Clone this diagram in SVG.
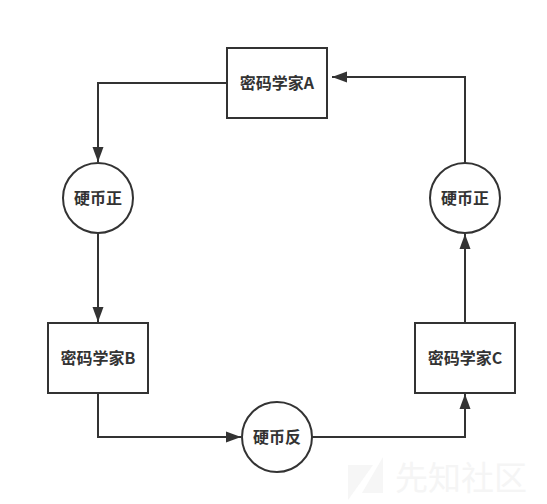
<svg xmlns="http://www.w3.org/2000/svg" width="547" height="504" viewBox="0 0 547 504">
<style>
.n{fill:#fff;stroke:#333;stroke-width:2}
.c{fill:none;stroke:#333;stroke-width:2}
.t{font-family:"Noto Sans CJK SC","Liberation Sans",sans-serif;font-size:16px;font-weight:700;fill:#333;text-anchor:middle}
.w{font-family:"Noto Sans CJK SC",sans-serif;font-size:33px;fill:#f5f5f5}
</style>
<defs>
<marker id="a" markerUnits="userSpaceOnUse" markerWidth="16" markerHeight="12" refX="15" refY="6" orient="auto"><path d="M0 0.5L15 6L0 11.5Z" fill="#333"/></marker>
</defs>
<rect width="547" height="504" fill="#fff"/>
<g id="watermark">
<path d="M348 465H373L348 500Z M383 457V493H362Z" fill="#f6f6f6"/>
<text class="w" x="395" y="490">先知社区</text>
</g>
<g id="connectors">
<path class="c" marker-end="url(#a)" d="M227 83H98V162"/>
<path class="c" marker-end="url(#a)" d="M98 233V322"/>
<path class="c" marker-end="url(#a)" d="M98 393V437H241"/>
<path class="c" marker-end="url(#a)" d="M312 437H465V394"/>
<path class="c" marker-end="url(#a)" d="M465 323V234"/>
<path class="c" marker-end="url(#a)" d="M465 163V77H332"/>
</g>
<g id="nodeA"><rect class="n" x="227" y="48" width="100" height="70"/><text class="t" x="277" y="89">密码学家A</text></g>
<g id="coin1"><circle class="n" cx="98" cy="198" r="35"/><text class="t" x="98" y="204">硬币正</text></g>
<g id="nodeB"><rect class="n" x="48" y="323" width="100" height="70"/><text class="t" x="98" y="364">密码学家B</text></g>
<g id="coin2"><circle class="n" cx="277" cy="437" r="35"/><text class="t" x="277" y="443">硬币反</text></g>
<g id="nodeC"><rect class="n" x="415" y="323" width="100" height="70"/><text class="t" x="465" y="364">密码学家C</text></g>
<g id="coin3"><circle class="n" cx="465" cy="198" r="35"/><text class="t" x="465" y="204">硬币正</text></g>
</svg>
